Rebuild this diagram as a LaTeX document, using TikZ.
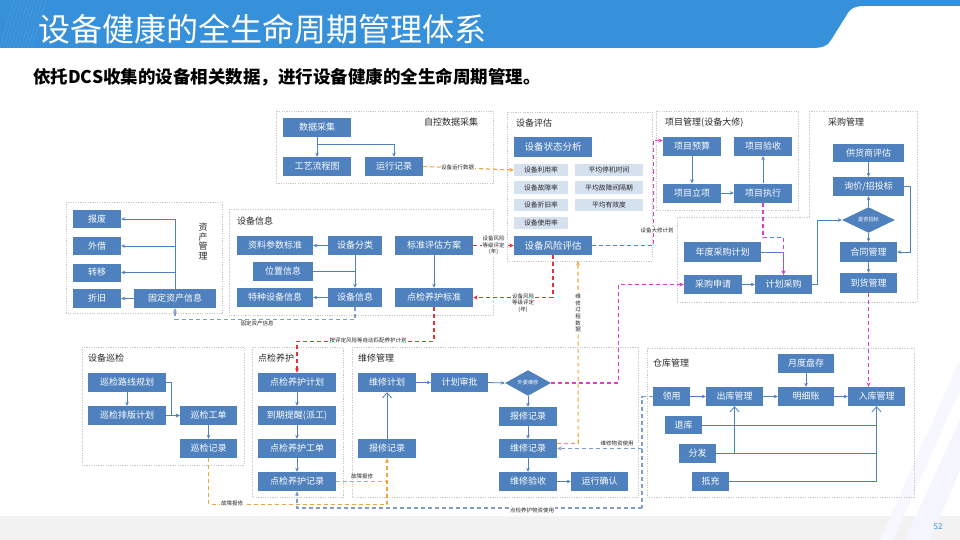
\documentclass[tikz,border=0pt]{standalone}
\usepackage{fontspec}
\setmainfont{Noto Sans CJK SC}
\usetikzlibrary{arrows.meta,shapes.geometric}
\definecolor{banner}{RGB}{55,144,218}
\definecolor{boxblue}{RGB}{79,129,191}
\definecolor{lightbox}{RGB}{214,225,240}
\definecolor{lineblue}{RGB}{79,129,189}
\definecolor{grpgray}{RGB}{200,200,200}
\definecolor{textdark}{RGB}{40,40,40}
\definecolor{odash}{RGB}{240,165,60}
\definecolor{rdash}{RGB}{230,50,50}
\definecolor{pdash}{RGB}{225,60,200}
\definecolor{bgdash}{RGB}{130,155,200}
\begin{document}
\begin{tikzpicture}[x=1pt,y=-1pt,
  sz/.style n args={2}{minimum width=#1pt, minimum height=#2pt},
  bx/.style={fill=boxblue, text=white, inner sep=0pt, font=\fontsize{9}{10}\selectfont},
  bbx/.style={bx, font=\fontsize{9.5}{10}\selectfont},
  sbx/.style={fill=lightbox, text=textdark, inner sep=0pt, font=\fontsize{6.8}{8}\selectfont},
  dia/.style={diamond, fill=boxblue, text=white, inner sep=0pt, font=\fontsize{5.2}{6}\selectfont},
  grp/.style={draw=grpgray, dash pattern=on 1.2pt off 1.2pt, line width=0.6pt},
  gtitle/.style={text=textdark, inner sep=0pt, font=\fontsize{9}{10}\selectfont},
  ln/.style={draw=lineblue, line width=0.8pt},
  conn/.style={ln, -{Stealth[length=4pt,width=3.6pt]}},
  openarr/.style={ln, -{Straight Barb[length=5pt,width=9pt,line width=0.8pt]}},
  odl/.style={draw=odash, line width=1.1pt, dash pattern=on 4pt off 3pt},
  od/.style={odl, -{Stealth[length=4.5pt,width=4pt]}},
  rd/.style={draw=rdash, line width=1.1pt, dash pattern=on 4pt off 3pt, -{Stealth[length=4.5pt,width=4pt]}},
  pd/.style={draw=pdash, line width=1.1pt, dash pattern=on 4pt off 3pt, -{Stealth[length=4.5pt,width=4pt]}},
  bd/.style={draw=bgdash, line width=1.1pt, dash pattern=on 4pt off 3pt, -{Stealth[length=4.5pt,width=4pt]}},
  bdl/.style={draw=bgdash, line width=1.1pt, dash pattern=on 4pt off 3pt},
  lbl/.style={fill=white, text=textdark, inner sep=0.6pt, font=\fontsize{5.5}{6.3}\selectfont, align=center},
  lbln/.style={text=textdark, inner sep=0.6pt, font=\fontsize{5.5}{6.3}\selectfont, align=center}
]
\useasboundingbox (0,0) rectangle (960,540);
\fill[white] (0,0) rectangle (960,540);
% bottom band and right decoration
\fill[black!5] (0,516) rectangle (960,540);
\fill[blue!4] (905,540) -- (960,420) -- (960,470) -- (930,540) -- cycle;
\fill[blue!3] (880,540) -- (960,360) -- (960,390) -- (893,540) -- cycle;
\node[text=banner, font=\fontsize{8}{9}\selectfont] (pg) at (938,527) {52};
% header banner
\fill[banner] (0,0) -- (960,0) -- (960,6) -- (864,6) .. controls (853,6) and (849,10) .. (846,16) -- (831,40) .. controls (828,46) and (822,48) .. (812,48) -- (0,48) -- cycle;
\foreach \i in {0,...,9} {\draw[white, opacity=0.12, line width=0.5pt] (\i*3.5,48) -- (\i*3.5+14,0);}
\node[anchor=west, text=white, inner sep=0pt, font=\fontsize{32}{34}\selectfont] (title) at (38,29) {设备健康的全生命周期管理体系};
\node[anchor=west, text=black, inner sep=0pt, font=\fontsize{17.5}{19}\selectfont\bfseries] (sub) at (33,77) {依托DCS收集的设备相关数据，进行设备健康的全生命周期管理。};

% ---------- group boxes ----------
\draw[grp] (276,111) rectangle (493,183);
\draw[grp] (507,112) rectangle (652,261);
\draw[grp] (656,111) rectangle (798,210);
\draw[grp] (809,111) -- (917,111) -- (917,302) -- (677,302) -- (677,217) -- (809,217) -- cycle;
\draw[grp] (66,202) rectangle (222,313);
\draw[grp] (229,209) rectangle (493,315);
\draw[grp] (82,347) rectangle (244,465);
\draw[grp] (252,347) rectangle (343,497);
\draw[grp] (352,347) rectangle (638,497);
\draw[grp] (647,348) rectangle (914,497);

% group titles
\node[gtitle, anchor=west] (tA) at (424,122) {自控数据采集};
\node[gtitle, anchor=west] (tB) at (516,123) {设备评估};
\node[gtitle, anchor=west] (tC) at (665,123) {项目管理(设备大修)};
\node[gtitle, anchor=west] (tD) at (828,122) {采购管理};
\node[gtitle, align=center, font=\fontsize{9}{9.6}\selectfont] (tE) at (203,241.5) {资\\产\\管\\理};
\node[gtitle, anchor=west] (tF) at (237,221) {设备信息};
\node[gtitle, anchor=west] (tG) at (88,358) {设备巡检};
\node[gtitle, anchor=west] (tH) at (258,358) {点检养护};
\node[gtitle, anchor=west] (tI) at (358,358) {维修管理};
\node[gtitle, anchor=west] (tJ) at (653,363) {仓库管理};

% ---------- nodes ----------
% A
\node[bx,sz={68}{19}] (a1) at (317,127.5) {数据采集};
\node[bx,sz={68}{19}] (a2) at (317,166.5) {工艺流程图};
\node[bx,sz={58}{19}] (a3) at (394,166.5) {运行记录};
% B
\node[bbx,sz={78}{20}] (b0) at (553,147) {设备状态分析};
\node[sbx,sz={54}{12}] (b1) at (541,170) {设备利用率};
\node[sbx,sz={68}{12}] (b2) at (609,170) {平均停机时间};
\node[sbx,sz={54}{12}] (b3) at (541,187.5) {设备故障率};
\node[sbx,sz={68}{12}] (b4) at (609,187.5) {平均故障间隔期};
\node[sbx,sz={54}{12}] (b5) at (541,205) {设备折旧率};
\node[sbx,sz={68}{12}] (b6) at (609,205) {平均有效度};
\node[sbx,sz={54}{12}] (b7) at (541,222.5) {设备使用率};
\node[bbx,sz={78}{19}] (b8) at (553,245.5) {设备风险评估};
% C
\node[bx,sz={58}{19}] (c1) at (692,146.5) {项目预算};
\node[bx,sz={58}{19}] (c2) at (763,146.5) {项目验收};
\node[bx,sz={58}{19}] (c3) at (692,193) {项目立项};
\node[bx,sz={58}{19}] (c4) at (763,193) {项目执行};
% D
\node[bx,sz={71}{18}] (d1) at (868.5,153) {供货商评估};
\node[bx,sz={71}{19}] (d2) at (868.5,186.5) {询价/招投标};
\node[dia,sz={53}{18}] (d3) at (868.5,220) {是否招标};
\node[bx,sz={57}{20}] (d4) at (868.5,252) {合同管理};
\node[bx,sz={57}{20}] (d5) at (868.5,283) {到货管理};
\node[bx,sz={77}{20}] (d6) at (722.5,252) {年度采购计划};
\node[bx,sz={58}{19}] (d7) at (713,284.5) {采购申请};
\node[bx,sz={57}{19}] (d8) at (783.5,284.5) {计划采购};
% E
\node[bx,sz={48}{18}] (e1) at (97,219) {报废};
\node[bx,sz={48}{18}] (e2) at (97,246) {外借};
\node[bx,sz={48}{18}] (e3) at (97,272.5) {转移};
\node[bx,sz={48}{19}] (e4) at (97,298.5) {折旧};
\node[bx,sz={82}{19}] (e5) at (175,298.5) {固定资产信息};
% F
\node[bx,sz={76}{19}] (f1) at (275,245.5) {资料参数标准};
\node[bx,sz={54}{19}] (f2) at (355,245.5) {设备分类};
\node[bx,sz={78}{19}] (f3) at (434,245.5) {标准评估方案};
\node[bx,sz={60}{19}] (f4) at (283,271.5) {位置信息};
\node[bx,sz={76}{19}] (f5) at (275,297.5) {特种设备信息};
\node[bx,sz={54}{19}] (f6) at (355,297.5) {设备信息};
\node[bx,sz={78}{19}] (f7) at (434,297.5) {点检养护标准};
% G
\node[bx,sz={78}{19}] (g1) at (127,382.5) {巡检路线规划};
\node[bx,sz={78}{19}] (g2) at (127,415.5) {巡检排版计划};
\node[bx,sz={57}{19}] (g3) at (208.5,415.5) {巡检工单};
\node[bx,sz={57}{19}] (g4) at (208.5,448.5) {巡检记录};
% H
\node[bx,sz={78}{19}] (h1) at (297,382.5) {点检养护计划};
\node[bx,sz={78}{19}] (h2) at (297,415.5) {到期提醒(派工)};
\node[bx,sz={78}{19}] (h3) at (297,448.5) {点检养护工单};
\node[bx,sz={78}{19}] (h4) at (297,481.5) {点检养护记录};
% I
\node[bx,sz={58}{19}] (i1) at (387,382.5) {维修计划};
\node[bx,sz={57}{19}] (i2) at (459.5,382.5) {计划审批};
\node[dia,sz={46}{20}] (i3) at (528,383) {外委维修};
\node[bx,sz={58}{19}] (i4) at (528,416.5) {报修记录};
\node[bx,sz={58}{19}] (i5) at (528,448.5) {维修记录};
\node[bx,sz={58}{19}] (i6) at (528,481.5) {维修验收};
\node[bx,sz={57}{19}] (i7) at (599.5,481.5) {运行确认};
\node[bx,sz={58}{19}] (i8) at (387,448.5) {报修记录};
% J
\node[bx,sz={56}{19}] (j1) at (806,363.5) {月度盘存};
\node[bx,sz={37}{19}] (j2) at (671.5,396.5) {领用};
\node[bx,sz={57}{19}] (j3) at (734.5,396.5) {出库管理};
\node[bx,sz={56}{19}] (j4) at (806,396.5) {明细账};
\node[bx,sz={57}{19}] (j5) at (876.5,396.5) {入库管理};
\node[bx,sz={37}{18}] (j6) at (683.5,425) {退库};
\node[bx,sz={37}{19}] (j7) at (697.5,453.5) {分发};
\node[bx,sz={37}{19}] (j8) at (710.5,481.5) {抵充};

% ---------- solid connectors ----------
\draw[conn] (a1.south) -- (a2.north);
\draw[conn] (a1.south) -- ++(0,7) -| (a3.north);
\draw[conn] (c1.south) -- (c3.north);
\draw[conn] (c3.east) -- (c4.west);
\draw[conn] (c4.north) -- (c2.south);
\draw[conn] (d1.south) -- (d2.north);
\draw[conn] (d3.north) -- (d2.south);
\draw[conn] (d3.south) -- (d4.north);
\draw[conn] (d2.east) -- ++(6,0) |- (d4.east);
\draw[conn] (d4.south) -- (d5.north);
\draw[conn] (d8.east) -- ++(5,0) |- (d3.west);
\draw[conn] (d6.east) -| (d8.north);
\draw[conn] (d7.east) -- (d8.west);
\draw[conn] (e5.north) |- (e1.east);
\draw[conn] (e5.north) |- (e2.east);
\draw[conn] (e5.north) |- (e3.east);
\draw[conn] (e5.west) -- (e4.east);
\draw[conn] (f2.west) -- (f1.east);
\draw[conn] (f2.south) -- (f6.north);
\draw[ln] (f4.east) -- (f4.east -| f2.south);
\draw[conn] (f6.west) -- (f5.east);
\draw[conn] (f3.south) -- (f7.north);
\draw[conn] (g1.south) -- (g2.north);
\draw[conn] (g1.east) -- ++(5,0) |- (g3.west);
\draw[conn] (g2.east) -- (g3.west);
\draw[conn] (g3.south) -- (g4.north);
\draw[conn] (h1.south) -- (h2.north);
\draw[conn] (h2.south) -- (h3.north);
\draw[conn] (h3.south) -- (h4.north);
\draw[conn] (i1.east) -- (i2.west);
\draw[conn] (i2.east) -- (i3.west);
\draw[conn] (i3.south) -- (i4.north);
\draw[conn] (i4.south) -- (i5.north);
\draw[conn] (i5.south) -- (i6.north);
\draw[conn] (i6.east) -- (i7.west);
\draw[openarr] (i8.north) -- (i1.south);
\draw[conn] (j2.east) -- (j3.west);
\draw[conn] (j3.east) -- (j4.west);
\draw[conn] (j4.east) -- (j5.west);
\draw[conn] (j1.south) -- (j4.north);
\draw[ln] (j6.east) -- (j6.east -| j5.south);
\draw[ln] (j7.east) -- (j7.east -| j5.south);
\draw[openarr] (j7.east -| j3.south) -- (j3.south);
\draw[openarr] (j8.east) -| (j5.south);

% ---------- dashed connectors ----------
\draw[od] (a3.east) -- node[lbl, pos=0.38] (l1) {设备运行数据} (b1.west);
\draw[rd] (f3.east) -- node[lbl] (l2) {设备风险\\等级评定\\(年)} (b8.west);
\draw[rd] (b8.south) |- (f7.east);
\node[lbl] (l3) at (523,303) {设备风险\\等级评定\\(年)};
\draw[rd] (f7.south) -- ++(0,34) -| (h1.north);
\node[lbl] (l4) at (368,340.5) {按评定风险等自动匹配养护计划};
\draw[pd] (b8.east) -- ++(61,0) |- ([yshift=6pt]c1.west);
\node[lbl] (l5) at (657,230) {设备大修计划};
\draw[pd] (c4.south) -- ++(0,35) -| (d8.north);
\draw[pd] (d5.south) -- (d5.south |- j5.north);
\draw[pd] (i3.east) -- ++(67,0) |- (d7.west);
\draw[od] (g4.south) -- ++(0,46) -| (i8.south);
\node[lbl] (l6) at (232,503.5) {故障报修};
\draw[odl] (h4.east) -- (h4.east -| i8.south);
\node[lbln] (l7) at (362,476) {故障报修};
\draw[od] ([yshift=5pt]i5.east) -- ++(21,0) -- (578,261);
\node[lbl, font=\fontsize{5.5}{6.7}\selectfont] (l8) at (578,313) {维\\修\\过\\程\\数\\据};
\draw[bdl] (j2.west) -- (642,396.5) -- (642,508);
\draw[bd] (642,508) -| (h4.south);
\node[lbl] (l9) at (532,510.5) {点检养护物资使用};
\draw[bd] (642,448.5) -- (i5.east);
\node[lbln] (l10) at (617,443.5) {维修物资使用};
\draw[bd] (f6.south) -- ++(0,12.5) -| (e5.south);
\node[lbln] (l11) at (257,323.5) {固定资产信息};
\end{tikzpicture}
\end{document}
